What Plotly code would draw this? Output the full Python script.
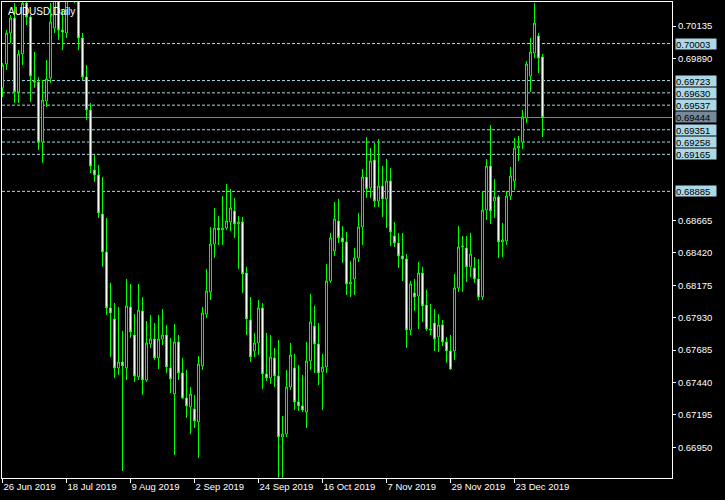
import pandas as pd
import plotly.graph_objects as go

# ---------------- data ----------------
symbol_title = "AUDUSD,Daily"

opens = [0.69667, 0.69848, 0.70083, 0.70196, 0.69637, 0.69924, 0.70309, 0.70203, 0.69720, 0.69712,
         0.69258, 0.69568, 0.69742, 0.70120, 0.70370, 0.70105, 0.70083, 0.70483, 0.70450, 0.70400,
         0.70045, 0.69750, 0.69500, 0.69047, 0.69009, 0.68714, 0.68427, 0.68004, 0.67920, 0.67550,
         0.67595, 0.67550, 0.68011, 0.67799, 0.67482, 0.67981, 0.67459, 0.67731, 0.67769, 0.67626,
         0.67769, 0.67799, 0.67550, 0.67353, 0.67747, 0.67512, 0.67323, 0.67255, 0.67240, 0.67142,
         0.67565, 0.67958, 0.68125, 0.68487, 0.68608, 0.68593, 0.68608, 0.68654, 0.68737, 0.68639,
         0.68654, 0.68268, 0.67913, 0.67678, 0.67739, 0.68004, 0.67505, 0.67474, 0.67626, 0.67489,
         0.67028, 0.67051, 0.67406, 0.67550, 0.67293, 0.67263, 0.67217, 0.67603, 0.67867, 0.67731,
         0.67520, 0.67557, 0.68208, 0.68434, 0.68661, 0.68533, 0.68503, 0.68185, 0.68223, 0.68382,
         0.68616, 0.68994, 0.68911, 0.69122, 0.68812, 0.68926, 0.68828, 0.68964, 0.68548, 0.68495,
         0.68397, 0.68374, 0.67837, 0.68117, 0.68094, 0.68268, 0.68026, 0.67845, 0.67890, 0.67784,
         0.67875, 0.67747, 0.67678, 0.67678, 0.68155, 0.68465, 0.68457, 0.68314, 0.68306, 0.68223,
         0.68087, 0.68744, 0.69077, 0.68812, 0.68843, 0.68503, 0.68510, 0.68850, 0.68964, 0.69213,
         0.69258, 0.69440, 0.69757, 0.69931, 0.70060, 0.69901]

highs = [0.69856, 0.70105, 0.70219, 0.70309, 0.69954, 0.70408, 0.70392, 0.70219, 0.69939, 0.69750,
         0.69727, 0.69878, 0.70309, 0.70445, 0.70408, 0.70256, 0.70559, 0.70800, 0.70520, 0.70420,
         0.70083, 0.69841, 0.69553, 0.69160, 0.69085, 0.68994, 0.68684, 0.68193, 0.68041, 0.68011,
         0.67830, 0.68223, 0.68185, 0.67958, 0.68185, 0.68087, 0.67905, 0.67951, 0.67890, 0.67951,
         0.67996, 0.67875, 0.67777, 0.67883, 0.67799, 0.67626, 0.67535, 0.67406, 0.67346, 0.67641,
         0.68011, 0.68298, 0.68616, 0.68760, 0.68699, 0.68850, 0.68941, 0.68903, 0.68835, 0.68699,
         0.68692, 0.68314, 0.68087, 0.67815, 0.68064, 0.68041, 0.67815, 0.67799, 0.67701, 0.67762,
         0.67187, 0.67535, 0.67739, 0.67656, 0.67573, 0.67497, 0.67747, 0.68109, 0.68019, 0.67890,
         0.67656, 0.68336, 0.68571, 0.68805, 0.68828, 0.68623, 0.68578, 0.68359, 0.68457, 0.68722,
         0.69054, 0.69296, 0.69213, 0.69251, 0.69281, 0.69077, 0.69130, 0.69062, 0.68654, 0.68571,
         0.68571, 0.68412, 0.68208, 0.68223, 0.68351, 0.68314, 0.68140, 0.68034, 0.67996, 0.67958,
         0.67913, 0.67784, 0.67799, 0.68261, 0.68623, 0.68548, 0.68548, 0.68571, 0.68389, 0.68374,
         0.68888, 0.69130, 0.69387, 0.68979, 0.68858, 0.68646, 0.68888, 0.69070, 0.69289, 0.69304,
         0.69500, 0.69871, 0.70045, 0.70309, 0.70083, 0.69924]

lows = [0.69599, 0.69803, 0.70007, 0.69553, 0.69553, 0.69841, 0.70143, 0.69561, 0.69667, 0.69198,
        0.69100, 0.69523, 0.69705, 0.70083, 0.70030, 0.69954, 0.70045, 0.70370, 0.70309, 0.69954,
        0.69727, 0.69425, 0.69024, 0.68956, 0.68684, 0.68314, 0.67951, 0.67633, 0.67474, 0.67497,
        0.66771, 0.67459, 0.67777, 0.67444, 0.67459, 0.67346, 0.67444, 0.67701, 0.67610, 0.67542,
        0.67724, 0.67512, 0.67361, 0.66892, 0.67459, 0.67316, 0.67172, 0.67051, 0.67096, 0.66870,
        0.67535, 0.67928, 0.68064, 0.68382, 0.68480, 0.68480, 0.68593, 0.68586, 0.68533, 0.68298,
        0.68117, 0.67799, 0.67595, 0.67633, 0.67648, 0.67391, 0.67452, 0.67429, 0.67406, 0.66665,
        0.66665, 0.67028, 0.67384, 0.67232, 0.67225, 0.67217, 0.67096, 0.67535, 0.67512, 0.67421,
        0.67232, 0.67512, 0.68193, 0.68397, 0.68495, 0.68344, 0.68102, 0.68087, 0.68102, 0.68351,
        0.68480, 0.68835, 0.68835, 0.68767, 0.68767, 0.68692, 0.68608, 0.68472, 0.68465, 0.68306,
        0.68208, 0.67701, 0.67799, 0.67981, 0.67845, 0.67898, 0.67830, 0.67799, 0.67678, 0.67671,
        0.67716, 0.67588, 0.67535, 0.67610, 0.68125, 0.68125, 0.68200, 0.68238, 0.68193, 0.68064,
        0.68064, 0.68669, 0.68639, 0.68684, 0.68382, 0.68389, 0.68480, 0.68820, 0.68896, 0.69115,
        0.69206, 0.69402, 0.69637, 0.69893, 0.69780, 0.69296]

closes = [0.69841, 0.70083, 0.70196, 0.69637, 0.69924, 0.70309, 0.70203, 0.69757, 0.69712, 0.69258,
          0.69576, 0.69735, 0.70166, 0.70370, 0.70105, 0.70090, 0.70483, 0.70450, 0.70400, 0.70045,
          0.69750, 0.69500, 0.69077, 0.69009, 0.68722, 0.68427, 0.68004, 0.67966, 0.67550, 0.67595,
          0.67565, 0.68019, 0.67822, 0.67489, 0.67988, 0.67459, 0.67739, 0.67769, 0.67626, 0.67769,
          0.67799, 0.67557, 0.67467, 0.67747, 0.67512, 0.67323, 0.67263, 0.67353, 0.67149, 0.67580,
          0.67966, 0.68132, 0.68487, 0.68608, 0.68593, 0.68608, 0.68661, 0.68760, 0.68639, 0.68654,
          0.68261, 0.67920, 0.67633, 0.67739, 0.68004, 0.67505, 0.67474, 0.67633, 0.67489, 0.67028,
          0.67051, 0.67406, 0.67648, 0.67293, 0.67263, 0.67232, 0.67603, 0.67898, 0.67731, 0.67512,
          0.67557, 0.68208, 0.68533, 0.68676, 0.68533, 0.68503, 0.68185, 0.68200, 0.68382, 0.68616,
          0.68994, 0.68903, 0.69115, 0.68812, 0.68926, 0.68828, 0.68964, 0.68578, 0.68495, 0.68397,
          0.68374, 0.67837, 0.68185, 0.68087, 0.68268, 0.68019, 0.67845, 0.67837, 0.67769, 0.67875,
          0.67747, 0.67678, 0.67542, 0.68155, 0.68465, 0.68472, 0.68314, 0.68412, 0.68223, 0.68087,
          0.68744, 0.69077, 0.68737, 0.68843, 0.68503, 0.68518, 0.68850, 0.69001, 0.69213, 0.69228,
          0.69448, 0.69848, 0.69939, 0.70158, 0.69893, 0.69444]

# trading days shown (weekdays, no Christmas / New Year bar)
all_days = pd.bdate_range("2019-06-26", "2020-01-03")
holidays = pd.to_datetime(["2019-12-25", "2020-01-01"])
days = [d.strftime("%Y-%m-%d") for d in all_days if d not in holidays]

time_tick_dates = ["2019-06-26", "2019-07-18", "2019-08-09", "2019-09-02", "2019-09-24",
                   "2019-10-16", "2019-11-07", "2019-11-29", "2019-12-23"]
time_tick_labels = ["26 Jun 2019", "18 Jul 2019", "9 Aug 2019", "2 Sep 2019", "24 Sep 2019",
                    "16 Oct 2019", "7 Nov 2019", "29 Nov 2019", "23 Dec 2019"]

price_ticks = [0.70135, 0.69890, 0.68665, 0.68420, 0.68175, 0.67930, 0.67685, 0.67440, 0.67195, 0.66950]
level_lines = [0.70003, 0.69723, 0.69630, 0.69537, 0.69351, 0.69258, 0.69165, 0.68885]
current_price = 0.69444

# ---------------- styling ----------------
GREEN = "#00FF00"
WHITE = "#FFFFFF"
LEVEL_COLOR = "#ADD8E6"
CURRENT_COLOR = "#778899"
FONT = "Liberation Sans, Arial, sans-serif"

fig = go.Figure()
fig.add_trace(go.Candlestick(
    x=days, open=opens, high=highs, low=lows, close=closes,
    increasing=dict(line=dict(color=GREEN, width=1), fillcolor="#000000"),
    decreasing=dict(line=dict(color=GREEN, width=1), fillcolor=WHITE),
    whiskerwidth=0, hoverinfo="skip", showlegend=False,
))

shapes = []
for v in level_lines:
    shapes.append(dict(type="line", xref="paper", x0=0, x1=1, yref="y", y0=v, y1=v,
                       line=dict(color=LEVEL_COLOR, width=1, dash="3px,2px"), layer="below"))
shapes.append(dict(type="line", xref="paper", x0=0, x1=1, yref="y", y0=current_price, y1=current_price,
                   line=dict(color=CURRENT_COLOR, width=1), layer="below"))

annotations = []
for v in level_lines:
    annotations.append(dict(xref="paper", x=1, xanchor="left", xshift=3, yref="y", y=v,
                            yanchor="middle", text=f"{v:.5f}", showarrow=False,
                            bgcolor=LEVEL_COLOR, font=dict(color="#000000", size=9.5, family=FONT),
                            width=40, height=10, borderpad=0, align="left"))
annotations.append(dict(xref="paper", x=1, xanchor="left", xshift=3, yref="y", y=current_price,
                        yanchor="middle", text=f"{current_price:.5f}", showarrow=False,
                        bgcolor=CURRENT_COLOR, font=dict(color="#000000", size=9.5, family=FONT),
                        width=40, height=10, borderpad=0, align="left"))
annotations.append(dict(xref="paper", x=0, xanchor="left", xshift=4, yref="paper", y=1,
                        yanchor="top", yshift=-2, text=symbol_title, showarrow=False,
                        font=dict(color=WHITE, size=10, family=FONT)))

fig.update_layout(
    width=725, height=500,
    margin=dict(l=2, r=53, t=2, b=22, autoexpand=False),
    paper_bgcolor="#000000", plot_bgcolor="#000000",
    shapes=shapes, annotations=annotations,
    showlegend=False,
    xaxis=dict(
        type="category", range=[-0.125, 167.375], automargin=False,
        rangeslider=dict(visible=False),
        showgrid=False, zeroline=False,
        showline=True, mirror=True, linecolor=WHITE, linewidth=1,
        ticks="outside", ticklen=4, tickcolor=WHITE, tickwidth=1,
        tickvals=time_tick_dates, ticktext=time_tick_labels,
        ticklabelposition="outside right",
        tickfont=dict(color=WHITE, size=9.5, family=FONT),
    ),
    yaxis=dict(
        side="right", range=[0.66718, 0.70317], automargin=False,
        showgrid=False, zeroline=False,
        showline=True, mirror=True, linecolor=WHITE, linewidth=1,
        ticks="outside", ticklen=3, tickcolor=WHITE, tickwidth=1,
        tickvals=price_ticks, ticktext=[f"{v:.5f}" for v in price_ticks],
        tickfont=dict(color=WHITE, size=9.5, family=FONT),
    ),
)

fig.write_html("out.html", config={"displayModeBar": False})

# remove the browser's default page margin so the figure sits at the window origin
with open("out.html", encoding="utf-8") as fh:
    html = fh.read()
html = html.replace("<head>", "<head><style>html,body{margin:0;padding:0;background:#000;overflow:hidden;}</style>", 1)
with open("out.html", "w", encoding="utf-8") as fh:
    fh.write(html)
